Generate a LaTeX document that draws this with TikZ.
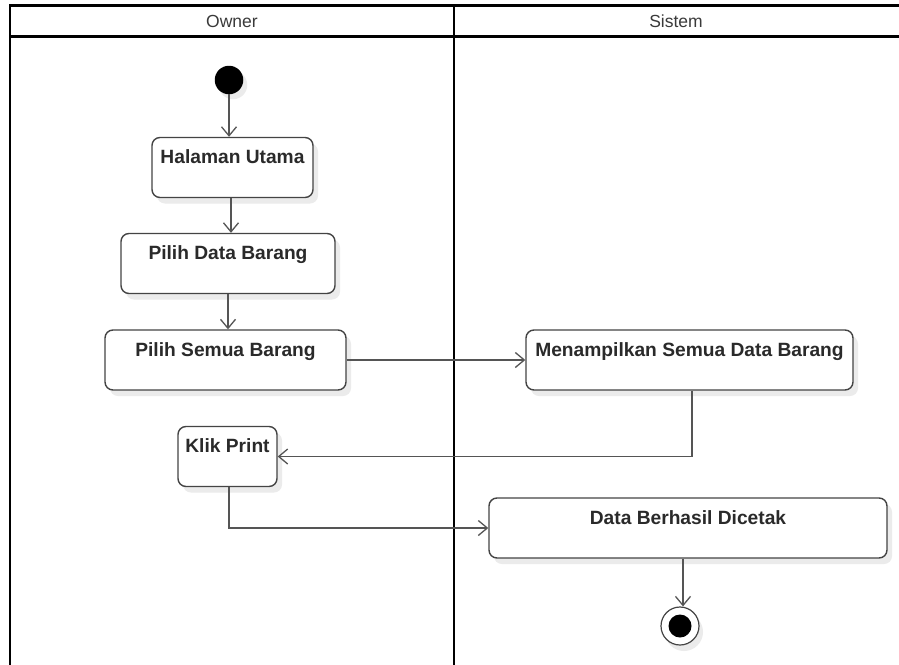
\documentclass[tikz,border=0pt]{standalone}
\usepackage{fontspec}
\setmainfont{Liberation Sans}
\usetikzlibrary{arrows.meta,calc,shadows}
\definecolor{boxline}{HTML}{444444}
\definecolor{conn}{HTML}{555555}
\definecolor{txt}{HTML}{2A2A2A}
\definecolor{hdr}{HTML}{3A3A3A}
\begin{document}
\begin{tikzpicture}[x=1pt,y=-1pt,
  act/.style={draw=boxline, line width=1.4pt, rounded corners=8pt, fill=white,
    inner sep=0pt, text height=26pt, text depth=34pt, minimum height=60pt,
    font=\bfseries\fontsize{19.2}{22}\selectfont, text=txt, align=center,
    drop shadow={shadow xshift=5pt, shadow yshift=-6pt, fill=black!8, opacity=1}},
  lane/.style={draw=black, line width=2.6pt},
  hdrtxt/.style={font=\fontsize{17.5}{20}\selectfont, text=hdr, inner sep=0pt},
  arr/.style={draw=conn, line width=1.3pt, -{Straight Barb[length=9pt,width=15pt,line width=1.3pt]}}
]
\useasboundingbox (0,0) rectangle (899,664);
\fill[white] (0,0) rectangle (899,664);
% swimlane frame
\draw[lane] (10,680) -- (10,5.5) -- (905,5.5);
\draw[lane] (10,36.5) -- (905,36.5);
\draw[lane] (454,5.5) -- (454,680);
\node[hdrtxt] (owner) at (232,21.5) {Owner};
\node[hdrtxt] (sistem) at (676,21.5) {Sistem};
% start / end
\node[circle, fill=black, minimum size=28.5pt, inner sep=0pt,
  drop shadow={shadow xshift=4pt, shadow yshift=-5pt, fill=black!8, opacity=1}] (start) at (229,80) {};
\node[circle, draw=boxline, line width=1.2pt, fill=white, minimum size=38pt, inner sep=0pt,
  drop shadow={shadow xshift=4pt, shadow yshift=-6pt, fill=black!8, opacity=1}] (end) at (680,626) {};
\fill[black] (end.center) circle (11.5);
% activities
\node[act, minimum width=161pt] (hal) at (232.5,167.5) {Halaman Utama};
\node[act, minimum width=214pt] (pd) at (228,263.5) {Pilih Data Barang};
\node[act, minimum width=241pt] (ps) at (225.5,360) {Pilih Semua Barang};
\node[act, minimum width=327pt] (mt) at (689.5,360) {Menampilkan Semua Data Barang};
\node[act, minimum width=99pt] (kp) at (227.5,456.5) {Klik Print};
\node[act, minimum width=398pt] (db) at (688,528) {Data Berhasil Dicetak};
% connectors
\draw[arr] (start) -- (start |- hal.north);
\draw[arr] ([xshift=-1.5pt]hal.south) -- ([xshift=-1.5pt]hal.south |- pd.north);
\draw[arr] (pd.south) -- (pd.south |- ps.north);
\draw[arr] (ps.east) -- (mt.west);
\draw[arr] ([xshift=2.5pt]mt.south) |- (kp.east);
\draw[arr] ([xshift=1.5pt]kp.south) |- (db.west);
\draw[arr] ([xshift=-5pt]db.south) -- ([xshift=3pt]end.north);
\end{tikzpicture}
\end{document}
